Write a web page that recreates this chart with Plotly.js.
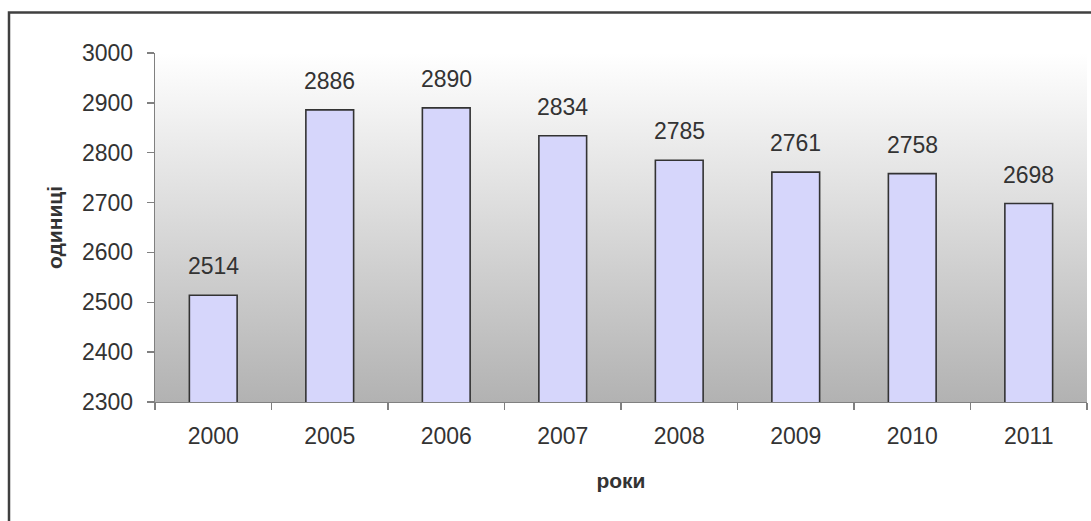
<!DOCTYPE html>
<html>
<head>
<meta charset="utf-8">
<script src="https://cdn.plot.ly/plotly-3.0.1.min.js"></script>
<style>
  html, body { margin: 0; padding: 0; background: #ffffff; }
  #chart { width: 1091px; height: 521px; }
</style>
</head>
<body>
<div id="chart"></div>
<script>
const years = ['2000', '2005', '2006', '2007', '2008', '2009', '2010', '2011'];
const values = [2514, 2886, 2890, 2834, 2785, 2761, 2758, 2698];
const yTicks = [2300, 2400, 2500, 2600, 2700, 2800, 2900, 3000];
const xTitle = 'роки';
const yTitle = 'одиниці';

const FONT = '"Liberation Sans", Arial, sans-serif';
const TXT = '#333333';

const gradSvg = '<svg xmlns="http://www.w3.org/2000/svg" width="100" height="100" preserveAspectRatio="none">' +
  '<defs><linearGradient id="g" x1="0" y1="0" x2="0" y2="1">' +
  '<stop offset="0" stop-color="#ffffff"/><stop offset="1" stop-color="#b2b2b2"/>' +
  '</linearGradient></defs><rect width="100" height="100" fill="url(#g)"/></svg>';
const gradUri = 'data:image/svg+xml;base64,' + btoa(gradSvg);

const trace = {
  type: 'bar',
  x: years,
  y: values,
  base: 0,
  width: 0.41,
  marker: { color: '#d6d6fb', line: { color: '#333333', width: 1.6 } },
  hoverinfo: 'x+y'
};

const annotations = years.map((yr, i) => ({
  x: i, y: values[i], xref: 'x', yref: 'y',
  text: String(values[i]), showarrow: false,
  xanchor: 'center', yanchor: 'bottom', yshift: 14,
  font: { family: FONT, size: 23, color: TXT }
}));

const layout = {
  width: 1091, height: 521,
  margin: { l: 155, r: 4, t: 53, b: 119 },
  paper_bgcolor: '#ffffff',
  plot_bgcolor: 'rgba(0,0,0,0)',
  showlegend: false,
  font: { family: FONT, color: TXT },
  images: [{
    source: gradUri, xref: 'paper', yref: 'paper',
    x: 0, y: 1, sizex: 1, sizey: 1, sizing: 'stretch',
    xanchor: 'left', yanchor: 'top', layer: 'below'
  }],
  xaxis: {
    type: 'category',
    range: [-0.5, years.length - 0.5],
    showgrid: false, zeroline: false,
    showline: true, linecolor: '#808080', linewidth: 1.3,
    ticks: 'outside', tickson: 'boundaries', ticklen: 7, tickcolor: '#808080', tickwidth: 1.3,
    ticklabelstandoff: 13,
    tickfont: { family: FONT, size: 23, color: TXT },
    title: { text: '<b>' + xTitle + '</b>', font: { family: FONT, size: 21, color: TXT }, standoff: 25 }
  },
  yaxis: {
    range: [2300, 3000],
    tickvals: yTicks,
    showgrid: false, zeroline: false,
    showline: true, linecolor: '#808080', linewidth: 1.3,
    ticks: 'outside', ticklen: 7, tickcolor: '#808080', tickwidth: 1.3,
    ticklabelstandoff: 9,
    tickfont: { family: FONT, size: 23, color: TXT },
    title: { text: '<b>' + yTitle + '</b>', font: { family: FONT, size: 21, color: TXT }, standoff: 13 }
  },
  shapes: [{
    type: 'rect', xref: 'paper', yref: 'paper',
    x0: (9 - 155) / 932, x1: 1.2,
    y0: -0.6, y1: 1 + (53 - 12.5) / 349,
    line: { color: '#404040', width: 2.5 },
    fillcolor: 'rgba(0,0,0,0)', layer: 'above'
  }],
  annotations: annotations
};

Plotly.newPlot('chart', [trace], layout, { displayModeBar: false, staticPlot: true });
</script>
</body>
</html>
